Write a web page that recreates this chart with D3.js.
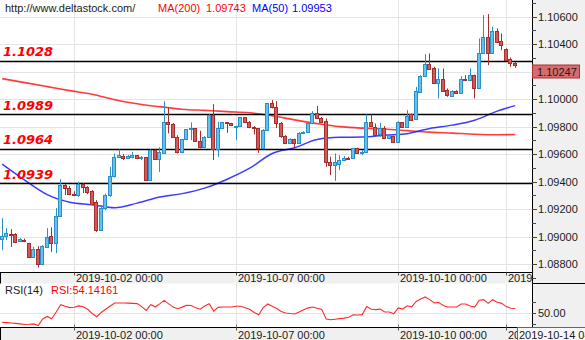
<!DOCTYPE html>
<html><head><meta charset="utf-8">
<script src="https://cdn.jsdelivr.net/npm/d3@7"></script>
<style>
html,body{margin:0;padding:0;background:#fff;overflow:hidden;}
svg{display:block;font-family:"Liberation Sans",Arial,sans-serif;}
</style></head><body>
<svg id="c" width="585" height="340"></svg>
<script>
// ---------- DATA ----------
const opens = [1.08982,1.09004,1.09021,1.09016,1.08968,1.08979,1.08951,1.08854,1.08909,1.08800,
1.08926,1.09004,1.08951,1.09149,1.09375,1.09351,1.09309,1.09302,1.09380,1.09358,
1.09331,1.09253,1.09048,1.09205,1.09302,1.09440,1.09576,1.09586,1.09569,1.09581,
1.09591,1.09569,1.09576,1.09411,1.09629,1.09562,1.09612,1.09831,1.09818,1.09726,
1.09617,1.09707,1.09780,1.09787,1.09697,1.09649,1.09726,1.09884,1.09637,1.09787,
1.09831,1.09823,1.09794,1.09804,1.09867,1.09831,1.09799,1.09787,1.09642,1.09775,
1.09969,1.09940,1.09823,1.09731,1.09678,1.09709,1.09678,1.09751,1.09762,1.09823,
1.09896,1.09860,1.09840,1.09540,1.09520,1.09525,1.09554,1.09573,1.09569,1.09642,
1.09605,1.09615,1.09831,1.09799,1.09746,1.09787,1.09714,1.09731,1.09690,1.09831,
1.09799,1.09891,1.09852,1.10053,1.10167,1.10254,1.10223,1.10118,1.10150,1.10065,
1.10024,1.10058,1.10046,1.10150,1.10140,1.10174,1.10082,1.10339,1.10449,1.10337,
1.10494,1.10422,1.10361,1.10289,1.10264];
const highs = [1.09135,1.09062,1.09055,1.09026,1.08990,1.08986,1.08955,1.08926,1.08931,1.08939,
1.09062,1.09069,1.09208,1.09418,1.09382,1.09368,1.09331,1.09399,1.09389,1.09368,
1.09338,1.09266,1.09229,1.09314,1.09508,1.09605,1.09634,1.09600,1.09593,1.09617,
1.09593,1.09586,1.09581,1.09637,1.09634,1.09651,1.09985,1.09940,1.09826,1.09738,
1.09709,1.09782,1.09831,1.09789,1.09770,1.09731,1.09891,1.09964,1.09835,1.09835,
1.09833,1.09828,1.09807,1.09871,1.09869,1.09840,1.09804,1.09789,1.09782,1.09973,
1.09993,1.09985,1.09833,1.09738,1.09716,1.09713,1.09760,1.09767,1.09826,1.09913,
1.09951,1.09869,1.09860,1.09581,1.09605,1.09593,1.09586,1.09581,1.09646,1.09647,
1.09629,1.09889,1.09889,1.09823,1.09828,1.09804,1.09746,1.09735,1.09840,1.09833,
1.09920,1.09896,1.10089,1.10174,1.10327,1.10332,1.10235,1.10223,1.10223,1.10078,
1.10065,1.10065,1.10167,1.10174,1.10223,1.10178,1.10441,1.10611,1.10618,1.10526,
1.10514,1.10478,1.10369,1.10303,1.10271];
const lows = [1.08902,1.08975,1.08926,1.08953,1.08960,1.08960,1.08849,1.08849,1.08776,1.08793,
1.08924,1.08890,1.08880,1.09144,1.09302,1.09302,1.09295,1.09290,1.09317,1.09309,
1.09229,1.09035,1.09043,1.09193,1.09290,1.09431,1.09571,1.09557,1.09564,1.09569,
1.09564,1.09557,1.09406,1.09406,1.09557,1.09471,1.09605,1.09751,1.09724,1.09605,
1.09607,1.09702,1.09702,1.09695,1.09642,1.09644,1.09724,1.09557,1.09581,1.09782,
1.09755,1.09804,1.09702,1.09799,1.09826,1.09789,1.09743,1.09610,1.09637,1.09767,
1.09932,1.09789,1.09719,1.09673,1.09673,1.09642,1.09673,1.09746,1.09757,1.09818,
1.09857,1.09826,1.09508,1.09447,1.09406,1.09484,1.09549,1.09564,1.09566,1.09605,
1.09593,1.09607,1.09799,1.09731,1.09726,1.09709,1.09709,1.09682,1.09688,1.09796,
1.09796,1.09840,1.09847,1.10050,1.10164,1.10211,1.10114,1.10005,1.10053,1.10017,
1.10017,1.10041,1.10044,1.10138,1.10138,1.10005,1.10078,1.10332,1.10247,1.10332,
1.10412,1.10356,1.10279,1.10235,1.10228];
const closes = [1.09004,1.09026,1.09011,1.08963,1.08980,1.08975,1.08854,1.08909,1.08800,1.08931,
1.08999,1.08951,1.09152,1.09375,1.09351,1.09309,1.09302,1.09380,1.09362,1.09326,
1.09237,1.09048,1.09205,1.09302,1.09440,1.09576,1.09593,1.09571,1.09586,1.09593,
1.09571,1.09581,1.09411,1.09629,1.09562,1.09617,1.09831,1.09818,1.09726,1.09617,
1.09707,1.09780,1.09787,1.09697,1.09649,1.09726,1.09884,1.09637,1.09787,1.09831,
1.09823,1.09811,1.09804,1.09869,1.09831,1.09794,1.09787,1.09642,1.09775,1.09969,
1.09940,1.09823,1.09731,1.09678,1.09709,1.09678,1.09751,1.09762,1.09823,1.09896,
1.09860,1.09831,1.09540,1.09520,1.09540,1.09557,1.09573,1.09569,1.09642,1.09610,
1.09617,1.09835,1.09804,1.09738,1.09787,1.09714,1.09738,1.09690,1.09831,1.09799,
1.09876,1.09847,1.10058,1.10167,1.10254,1.10218,1.10118,1.10148,1.10060,1.10029,
1.10058,1.10046,1.10150,1.10140,1.10174,1.10082,1.10339,1.10449,1.10337,1.10494,
1.10417,1.10394,1.10284,1.10260,1.10247];
const rsi = [41.2,41,40.7,40.3,39.8,39.3,39.5,39.8,38.3,44.4,
46.8,44.6,51,57.8,56.3,55,55.3,56.6,55.8,53.5,
49.5,46.5,50.5,53.5,56.5,59.3,59.3,59.3,59.2,59,
58.8,56,52.4,57.8,55.8,58.5,61.8,58.5,55.5,54,
55.5,57.2,57,54.8,53.5,56.5,58.7,51.8,55.3,55.6,
55.6,55.6,56.3,56.3,55,53.5,50.5,48.4,55,58.4,
56.3,54.2,51.5,50,49.5,49.1,51,53,54.8,55.6,
54.5,53.4,44.4,43.7,44.2,44.7,45.2,46,48.3,48.1,
48.5,56,53.5,53.2,53.6,51,50.9,49.3,54.7,53.7,
56.8,55.8,60.8,63,65,62.5,59.5,59.8,57,55.6,
55.6,55.6,58.4,58.4,56.5,55.5,62,62.5,59,62.4,
60,59,56,54.5,54.14];
const maIdx = [0,5,10,15,20,25,30,35,40,45,50,55,60,65,70,75,80,85,90,95,100,105,110,114];
const ma200 = [1.10149,1.10120,1.10091,1.10062,1.10036,1.09996,1.09967,1.09945,1.09927,1.09918,1.09909,1.09901,1.09879,1.09849,1.09822,1.09800,1.09789,1.09783,1.09771,1.09760,1.09753,1.09745,1.09741,1.09743];
const ma50 = [1.09527,1.09411,1.09306,1.09251,1.09233,1.09211,1.09244,1.09288,1.09313,1.09353,1.09418,1.09498,1.09605,1.09647,1.09706,1.09722,1.09724,1.09738,1.09749,1.09787,1.09811,1.09847,1.09913,1.09953];
const levels = [1.1028, 1.0989, 1.0964, 1.0939];
const levelLabels = ["1.1028", "1.0989", "1.0964", "1.0939"];
const timeIdx = [16, 52, 88, 112];
const timeLabels = ["2019-10-02 00:00", "2019-10-07 00:00", "2019-10-10 00:00", "2019-10-14 00:00"];
const lastTimeLabel = "2019-10-14 04:00";
const priceTicks = [1.088,1.090,1.092,1.094,1.096,1.098,1.100,1.102,1.104,1.106];
const priceMinor = [1.087,1.089,1.091,1.093,1.095,1.097,1.099,1.101,1.103,1.105,1.107];
const rsiTicks = [40, 50, 60];
const rsiLabelTick = 50;
const lastPrice = 1.10247;
const headerUrl = "http://www.deltastock.com/";
const ma200Label = "MA(200)", ma200Val = "1.09743";
const ma50Label = "MA(50)", ma50Val = "1.09953";
const rsiName = "RSI(14)", rsiVal = "RSI:54.14161";

// ---------- LAYOUT ----------
const svg = d3.select('#c');
const PR = 532;          // plot right edge
const mainBot = 272.5, band1Bot = 283.5, rsiBot = 327.5, H = 340, W = 585;
const boxX = 517.5;
const x = d3.scaleLinear().domain([0, 114]).range([2.2, 515.2]);
const y = d3.scaleLinear().domain([1.088, 1.106]).range([264.2, 16.6]);
const yr = d3.scaleLinear().domain([40, 60]).range([323.7, 302.3]);
const axisFill = '#f0f0f0', gridCol = '#e4e4e4', txt = '#1b1b1b';

const defs = svg.append('defs');
defs.append('clipPath').attr('id','clipMain').append('rect').attr('x',0).attr('y',0).attr('width',PR).attr('height',mainBot);
defs.append('clipPath').attr('id','clipRsi').append('rect').attr('x',0).attr('y',band1Bot).attr('width',PR).attr('height',rsiBot-band1Bot);
defs.append('clipPath').attr('id','clipBand1').append('rect').attr('x',0).attr('y',mainBot).attr('width',PR).attr('height',band1Bot-mainBot);
defs.append('clipPath').attr('id','clipBand2').append('rect').attr('x',0).attr('y',rsiBot).attr('width',boxX).attr('height',H-rsiBot);

svg.append('rect').attr('width',W).attr('height',H).attr('fill','#fff');
svg.append('rect').attr('x',PR).attr('y',0).attr('width',W-PR).attr('height',rsiBot).attr('fill',axisFill);
svg.append('rect').attr('x',0).attr('y',mainBot).attr('width',PR).attr('height',band1Bot-mainBot).attr('fill',axisFill);
svg.append('rect').attr('x',0).attr('y',rsiBot).attr('width',W).attr('height',H-rsiBot).attr('fill',axisFill);

// grid main
const gm = svg.append('g').attr('clip-path','url(#clipMain)');
gm.selectAll('line.h').data(priceTicks).join('line')
  .attr('x1',0).attr('x2',PR).attr('y1',d=>Math.round(y(d))+0.5).attr('y2',d=>Math.round(y(d))+0.5)
  .attr('stroke',gridCol).attr('stroke-width',1);
gm.selectAll('line.v').data(timeIdx).join('line')
  .attr('x1',d=>Math.round(x(d))+0.5).attr('x2',d=>Math.round(x(d))+0.5).attr('y1',0).attr('y2',mainBot)
  .attr('stroke',gridCol).attr('stroke-width',1);
// grid rsi
const gr = svg.append('g').attr('clip-path','url(#clipRsi)');
gr.selectAll('line.v').data(timeIdx).join('line')
  .attr('x1',d=>Math.round(x(d))+0.5).attr('x2',d=>Math.round(x(d))+0.5).attr('y1',band1Bot).attr('y2',rsiBot)
  .attr('stroke',gridCol);
gr.append('line').attr('x1',0).attr('x2',PR).attr('y1',Math.round(yr(rsiLabelTick))+0.5).attr('y2',Math.round(yr(rsiLabelTick))+0.5).attr('stroke',gridCol);

// MA lines
const maLine = arr => d3.line().x((d,k)=>x(maIdx[k])).y(d=>y(d)).curve(d3.curveMonotoneX)(arr);
gm.append('path').attr('d',maLine(ma200)).attr('fill','none').attr('stroke','#ff1010').attr('stroke-width',1.6).attr('stroke-opacity',0.82);
gm.append('path').attr('d',maLine(ma50)).attr('fill','none').attr('stroke','#1a1aff').attr('stroke-width',1.5).attr('stroke-opacity',0.85);

// support lines
gm.selectAll('line.lv').data(levels).join('line')
  .attr('x1',0).attr('x2',PR).attr('y1',d=>Math.round(y(d))+0.5).attr('y2',d=>Math.round(y(d))+0.5)
  .attr('stroke','#000').attr('stroke-width',1.3);

// candles
const gc = gm.append('g');
opens.forEach((o,i)=>{
  const c = closes[i], up = c >= o;
  const cx = Math.floor(x(i)) + 0.5;
  const wickCol = up ? '#2a90cc' : '#a82e2e';
  gc.append('line').attr('x1',cx).attr('x2',cx).attr('y1',y(highs[i])).attr('y2',y(lows[i]))
    .attr('stroke',wickCol).attr('stroke-width',1);
  const top = Math.round(y(Math.max(o,c))) + 0.5;
  const bot = Math.round(y(Math.min(o,c))) + 0.5;
  gc.append('rect').attr('x',cx-2).attr('y',top).attr('width',3).attr('height',Math.max(bot-top,1))
    .attr('fill', up ? '#62c2ec' : '#cf5a5a').attr('stroke',wickCol).attr('stroke-width',1);
});

// level labels
svg.selectAll('text.lvl').data(levels).join('text')
  .attr('x',3).attr('y',d=>y(d)-4.5).text((d,k)=>levelLabels[k])
  .attr('font-family','"DejaVu Sans",Verdana,sans-serif').attr('font-weight','bold').attr('font-style','italic')
  .attr('font-size',13).attr('fill','#ff0000');

// header
const hdr = svg.append('g').attr('font-size',11);
hdr.append('text').attr('x',5).attr('y',11.5).attr('fill',txt).text(headerUrl);
hdr.append('text').attr('x',158).attr('y',11.5).attr('fill','#ff0000').text(ma200Label);
hdr.append('text').attr('x',206).attr('y',11.5).attr('fill','#ff0000').text(ma200Val);
hdr.append('text').attr('x',252).attr('y',11.5).attr('fill','#0000ff').text(ma50Label);
hdr.append('text').attr('x',292).attr('y',11.5).attr('fill','#0000ff').text(ma50Val);

// RSI line
gr.append('path').attr('d',d3.line().x((d,i)=>x(i)).y(d=>yr(d))(rsi))
  .attr('fill','none').attr('stroke','#ff2a2a').attr('stroke-width',1.1);
svg.append('text').attr('x',5).attr('y',294).attr('font-size',11).attr('fill',txt).text(rsiName);
svg.append('text').attr('x',51).attr('y',294).attr('font-size',11).attr('fill','#ff0000').text(rsiVal);

// borders
svg.append('line').attr('x1',PR+0.5).attr('x2',PR+0.5).attr('y1',0).attr('y2',rsiBot).attr('stroke','#000');
svg.append('line').attr('x1',0).attr('x2',PR).attr('y1',mainBot).attr('y2',mainBot).attr('stroke','#000');
svg.append('line').attr('x1',PR).attr('x2',W).attr('y1',band1Bot).attr('y2',band1Bot).attr('stroke','#000');
svg.append('line').attr('x1',0).attr('x2',W).attr('y1',rsiBot).attr('y2',rsiBot).attr('stroke','#000');
svg.append('line').attr('x1',0.5).attr('x2',0.5).attr('y1',mainBot).attr('y2',band1Bot).attr('stroke','#000');
svg.append('line').attr('x1',0.5).attr('x2',0.5).attr('y1',rsiBot).attr('y2',H).attr('stroke','#000');

// price axis
const ga = svg.append('g');
ga.selectAll('line.mj').data(priceTicks).join('line')
  .attr('x1',PR).attr('x2',PR+5).attr('y1',d=>Math.round(y(d))+0.5).attr('y2',d=>Math.round(y(d))+0.5).attr('stroke','#444');
ga.selectAll('line.mn').data(priceMinor).join('line')
  .attr('x1',PR).attr('x2',PR+4).attr('y1',d=>Math.round(y(d))+0.5).attr('y2',d=>Math.round(y(d))+0.5).attr('stroke','#444');
ga.selectAll('text').data(priceTicks).join('text')
  .attr('x',538).attr('y',d=>y(d)+4).attr('font-size',11).attr('fill',txt).text(d=>d.toFixed(5));

// current price box
const by = Math.round(y(lastPrice)) + 0.5;
svg.append('rect').attr('x',PR+0.5).attr('y',by-0.5).attr('width',47).attr('height',13)
  .attr('fill','#d86c6c').attr('stroke','#a83232').attr('stroke-width',1);
svg.append('text').attr('x',537).attr('y',by+10).attr('font-size',11).attr('fill',txt).text(lastPrice.toFixed(5));

// RSI axis
svg.selectAll('line.rt').data(rsiTicks).join('line')
  .attr('x1',PR).attr('x2',PR+4).attr('y1',d=>Math.round(yr(d))+0.5).attr('y2',d=>Math.round(yr(d))+0.5).attr('stroke','#444');
svg.append('text').attr('x',538).attr('y',yr(rsiLabelTick)+4).attr('font-size',11).attr('fill',txt).text(rsiLabelTick.toFixed(2));

// time axis band 1 (clipped at plot edge)
const tb1 = svg.append('g').attr('clip-path','url(#clipBand1)');
tb1.selectAll('text').data(timeIdx).join('text')
  .attr('x',d=>Math.round(x(d))+2).attr('y',282).attr('font-size',11).attr('fill',txt).text((d,k)=>timeLabels[k]);
tb1.selectAll('line').data(timeIdx).join('line')
  .attr('x1',d=>Math.round(x(d))+0.5).attr('x2',d=>Math.round(x(d))+0.5).attr('y1',mainBot).attr('y2',mainBot+3).attr('stroke','#555');
// band 2 (clipped at the cursor time box)
const tb2 = svg.append('g').attr('clip-path','url(#clipBand2)');
tb2.selectAll('text').data(timeIdx).join('text')
  .attr('x',d=>Math.round(x(d))+2).attr('y',338.5).attr('font-size',11).attr('fill',txt).text((d,k)=>timeLabels[k]);
tb2.selectAll('line').data(timeIdx).join('line')
  .attr('x1',d=>Math.round(x(d))+0.5).attr('x2',d=>Math.round(x(d))+0.5).attr('y1',rsiBot).attr('y2',rsiBot+3).attr('stroke','#555');
svg.selectAll('line.rb').data(timeIdx).join('line')
  .attr('x1',d=>Math.round(x(d))+0.5).attr('x2',d=>Math.round(x(d))+0.5).attr('y1',rsiBot-3).attr('y2',rsiBot).attr('stroke','#777');

// last time box
svg.append('rect').attr('x',boxX).attr('y',rsiBot).attr('width',70).attr('height',14)
  .attr('fill','#f7f7f7').attr('stroke','#2e8b2e').attr('stroke-width',1);
svg.append('text').attr('x',519).attr('y',338.5).attr('font-size',11).attr('fill',txt).text(lastTimeLabel);
</script>
</body></html>
